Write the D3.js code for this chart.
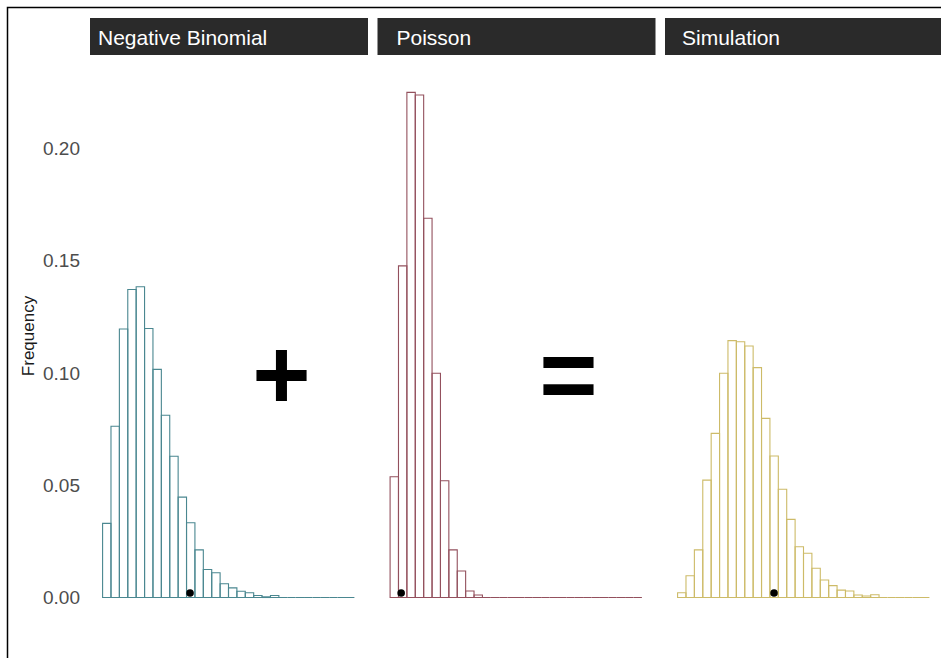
<!DOCTYPE html>
<html>
<head>
<meta charset="utf-8">
<script src="https://cdn.jsdelivr.net/npm/d3@7"></script>
<style>
  body { margin: 0; background: #fff; }
  svg { display: block; font-family: "Liberation Sans", Arial, sans-serif; }
</style>
</head>
<body>
<div id="chart"></div>
<script>
// panneaux (facettes)
var panelNames = ["Negative Binomial", "Poisson", "Simulation"];

// fréquences par classe (30 classes communes aux trois panneaux)
var nbFreq = [0.0330, 0.0763, 0.1196, 0.1372, 0.1384, 0.1198, 0.1016, 0.0812, 0.0629, 0.0447,
              0.0333, 0.0212, 0.0125, 0.0110, 0.0061, 0.0043, 0.0028, 0.0021, 0.0009, 0.0003,
              0.0009, 0, 0, 0, 0, 0, 0, 0, 0, 0];
var poisFreq = [0.0538, 0.1477, 0.2250, 0.2238, 0.1689, 0.0999, 0.0520, 0.0212, 0.0118, 0.0029,
                0.0011, 0, 0, 0, 0, 0, 0, 0, 0, 0,
                0, 0, 0, 0, 0, 0, 0, 0, 0, 0];
var simFreq = [0.0021, 0.0097, 0.0212, 0.0523, 0.0731, 0.0999, 0.1144, 0.1139, 0.1120, 0.1024,
               0.0798, 0.0630, 0.0482, 0.0348, 0.0226, 0.0197, 0.0130, 0.0078, 0.0053, 0.0033,
               0.0029, 0.0011, 0.0007, 0.0012, 0, 0, 0, 0, 0, 0];

// valeur observée (position en unités de classe) pour chaque panneau
var observed = [10.42, 1.32, 11.49];
var observedY = 0.002;

var yTicks = [0, 0.05, 0.10, 0.15, 0.20];
var operators = ["+", "="];

var colors = ["#4a8790", "#93505d", "#cdbb68"];

// paramètres de base
var width = 941, height = 658;
var panelW = 277;
var panelX = [90, 377.5, 665];
var labelOffset = [8, 19, 17];

var svg = d3.select("#chart").append("svg")
  .attr("width", width)
  .attr("height", height);

// cadre (bord gauche et haut)
svg.append("path")
  .attr("d", "M7.5," + height + "V7.5H" + width)
  .attr("fill", "none")
  .attr("stroke", "#000")
  .attr("stroke-width", 1.5);

var x = d3.scaleLinear().domain([-1.5, 31.5]).range([0, panelW]);
var y = d3.scaleLinear().domain([0, 0.2]).range([597.5, 148.5]);

// axe Y sans ligne ni tirets
var yAxis = svg.append("g")
  .attr("transform", "translate(80,0)")
  .call(d3.axisLeft(y).tickValues(yTicks).tickFormat(d3.format(".2f")).tickSize(0).tickPadding(0));
yAxis.select(".domain").remove();
yAxis.selectAll("text")
  .attr("fill", "#4d4d4d")
  .style("font-size", "19px")
  .style("font-family", "Liberation Sans, Arial, sans-serif");

svg.append("text")
  .attr("transform", "translate(34,336) rotate(-90)")
  .attr("text-anchor", "middle")
  .attr("fill", "#1a1a1a")
  .style("font-size", "17px")
  .text("Frequency");

var series = [nbFreq, poisFreq, simFreq];

panelNames.forEach(function(name, p) {
  var g = svg.append("g").attr("transform", "translate(" + panelX[p] + ",0)");

  // bandeau du titre
  g.append("rect")
    .attr("x", 0).attr("y", 18)
    .attr("width", panelW + 1).attr("height", 37)
    .attr("fill", "#2a2a2a");
  g.append("text")
    .attr("x", labelOffset[p]).attr("y", 45)
    .attr("fill", "#fff")
    .style("font-size", "21px")
    .text(name);

  // histogramme : un contour par classe (les classes vides restent une ligne)
  g.selectAll("path.bar").data(series[p])
    .enter()
    .append("path")
    .attr("class", "bar")
    .attr("d", function(d, i) {
      return "M" + x(i) + "," + y(0) + "V" + y(d) + "H" + x(i + 1) + "V" + y(0) + "Z";
    })
    .attr("fill", "none")
    .attr("stroke", colors[p])
    .attr("stroke-width", 1.1);

  // point de la valeur observée
  g.append("circle")
    .attr("cx", x(observed[p]))
    .attr("cy", y(observedY))
    .attr("r", 3.8)
    .attr("fill", "#000");
});

// signes + et =
var opX = [281.5, 568.5];
operators.forEach(function(op, k) {
  svg.append("text")
    .attr("x", opX[k])
    .attr("y", 409)
    .attr("text-anchor", "middle")
    .attr("fill", "#000")
    .style("font-size", "100px")
    .style("font-weight", "bold")
    .text(op);
});
</script>
</body>
</html>
